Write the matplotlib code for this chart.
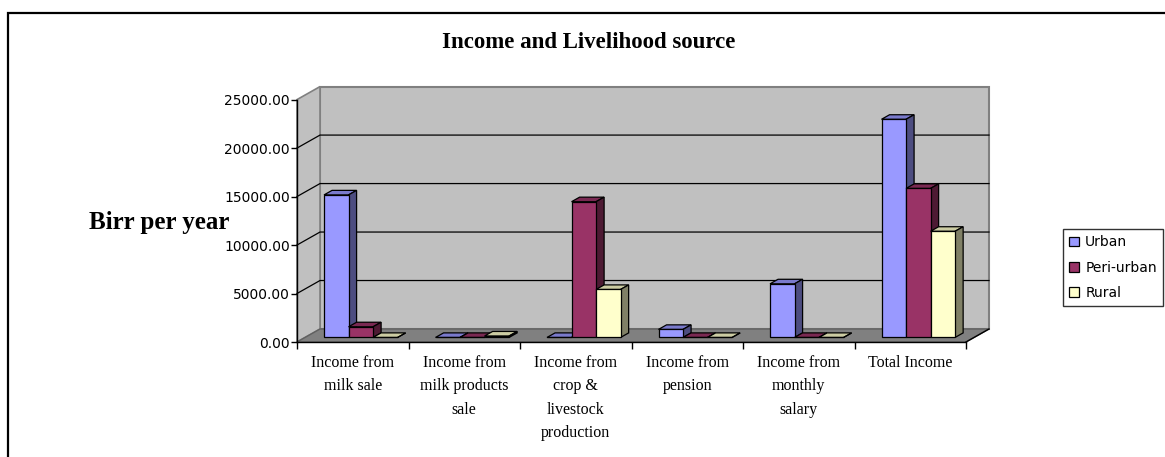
import matplotlib.pyplot as plt
from matplotlib.patches import Polygon, Rectangle, Patch

# data (Birr per year)
categories = ["Income from\nmilk sale", "Income from\nmilk products\nsale",
              "Income from\ncrop &\nlivestock\nproduction", "Income from\npension",
              "Income from\nmonthly\nsalary", "Total Income"]
series_names = ["Urban", "Peri-urban", "Rural"]
urban = [14700, 0, 0, 830, 5530, 22500]
peri_urban = [1100, 0, 14000, 0, 0, 15370]
rural = [0, 150, 4950, 0, 0, 10950]
y_ticks = [0, 5000, 10000, 15000, 20000, 25000]

front_col = ["#9999FF", "#993366", "#FFFFCC"]
top_col = ["#7A7ACC", "#7A2952", "#CCCCA3"]
side_col = ["#4D4D80", "#4D1A33", "#808066"]

W, H = 1165, 457
fig = plt.figure(figsize=(W / 100, H / 100), dpi=100)
ax = fig.add_axes([297 / W, 1 - 342 / H, 669 / W, 242.4 / H])
ax.set_facecolor("none")
n = len(categories)
ymax = y_ticks[-1]
ax.set_xlim(0, n)
ax.set_ylim(0, ymax)

# pixel -> data units, for the fake 3d depth
sx = n / 669
sy = ymax / 242.4
dx, dy = 23 * sx, 13 * sy
f0, f1 = 0.35, 0.70

# walls and floor
ax.add_patch(Polygon([(dx, dy), (n + dx, dy), (n + dx, ymax + dy), (dx, ymax + dy)],
                     closed=True, fc="#C0C0C0", ec="#808080", lw=1.5, clip_on=False, zorder=0.5))
ax.add_patch(Polygon([(0, 0), (dx, dy), (dx, ymax + dy), (0, ymax)],
                     closed=True, fc="#C0C0C0", ec="#808080", lw=1.2, clip_on=False, zorder=0.6))
ax.add_patch(Polygon([(0, 0), (n, 0), (n + dx, dy), (dx, dy)],
                     closed=True, fc="#808080", ec="#606060", lw=1, clip_on=False, zorder=0.7))
for v in y_ticks[1:-1]:
    ax.plot([0, dx, n + dx], [v, v + dy, v + dy], color="black", lw=0.9,
            clip_on=False, zorder=1)
ax.plot([n, n + dx], [0, dy], color="black", lw=1, clip_on=False, zorder=1)

# bars
bw = 0.22
gap = (1 - 3 * bw) / 2
bx, by = f0 * dx, f0 * dy
ddx, ddy = (f1 - f0) * dx, (f1 - f0) * dy
for j, vals in enumerate([urban, peri_urban, rural]):
    lefts = [i + gap + j * bw + bx for i in range(n)]
    ax.bar(lefts, vals, width=bw, bottom=by, align="edge", color=front_col[j],
           edgecolor="black", linewidth=0.9, zorder=4 + 2 * j, clip_on=False)
    for xl, v in zip(lefts, vals):
        yt = by + v
        ax.add_patch(Polygon([(xl, yt), (xl + bw, yt), (xl + bw + ddx, yt + ddy), (xl + ddx, yt + ddy)],
                             closed=True, fc=top_col[j], ec="black", lw=0.9,
                             clip_on=False, zorder=3 + 2 * j))
        ax.add_patch(Polygon([(xl + bw, by), (xl + bw + ddx, by + ddy), (xl + bw + ddx, yt + ddy), (xl + bw, yt)],
                             closed=True, fc=side_col[j], ec="black", lw=0.9,
                             clip_on=False, zorder=3 + 2 * j))

# axes
for s in ["top", "right"]:
    ax.spines[s].set_visible(False)
for s in ["left", "bottom"]:
    ax.spines[s].set_color("black")
    ax.spines[s].set_linewidth(1)
    ax.spines[s].set_zorder(2)
ax.set_yticks(y_ticks)
ax.set_yticklabels([f"{v:.2f}" for v in y_ticks])
ax.tick_params(axis="y", direction="out", length=4, width=1, pad=1, labelsize=10)
ax.set_xticks(range(n + 1))
ax.set_xticklabels([])
ax.tick_params(axis="x", which="major", direction="out", length=5, width=1)
ax.set_xticks([i + 0.5 for i in range(n)], minor=True)
ax.set_xticklabels(categories, minor=True, fontfamily="Liberation Serif",
                   fontsize=11.5, linespacing=1.6)
ax.tick_params(axis="x", which="minor", length=0, pad=9.5)

# titles
fig.text(589 / W, 1 - 43 / H, "Income and Livelihood source", ha="center", va="center",
         fontfamily="Liberation Serif", fontweight="bold", fontsize=16.5)
fig.text(159 / W, 1 - 223 / H, "Birr per year", ha="center", va="center",
         fontfamily="Liberation Serif", fontweight="bold", fontsize=18)

# legend
handles = [Patch(facecolor=front_col[j], edgecolor="black", linewidth=0.9, label=series_names[j])
           for j in range(3)]
leg = fig.legend(handles=handles, loc="center left", bbox_to_anchor=(1063 / W, 1 - 267.5 / H),
                 fontsize=10, frameon=True, fancybox=False, borderpad=0.45, labelspacing=0.8,
                 handlelength=0.7, handleheight=0.7, handletextpad=0.45, borderaxespad=0)
leg.get_frame().set_edgecolor("black")
leg.get_frame().set_linewidth(1)

# outer chart border
fig.patches.append(Rectangle((8 / W, -0.1), 1.2, 1 - 13 / H + 0.1, transform=fig.transFigure,
                             fill=False, ec="black", lw=1.6))

fig.savefig("out.png", dpi=100)
